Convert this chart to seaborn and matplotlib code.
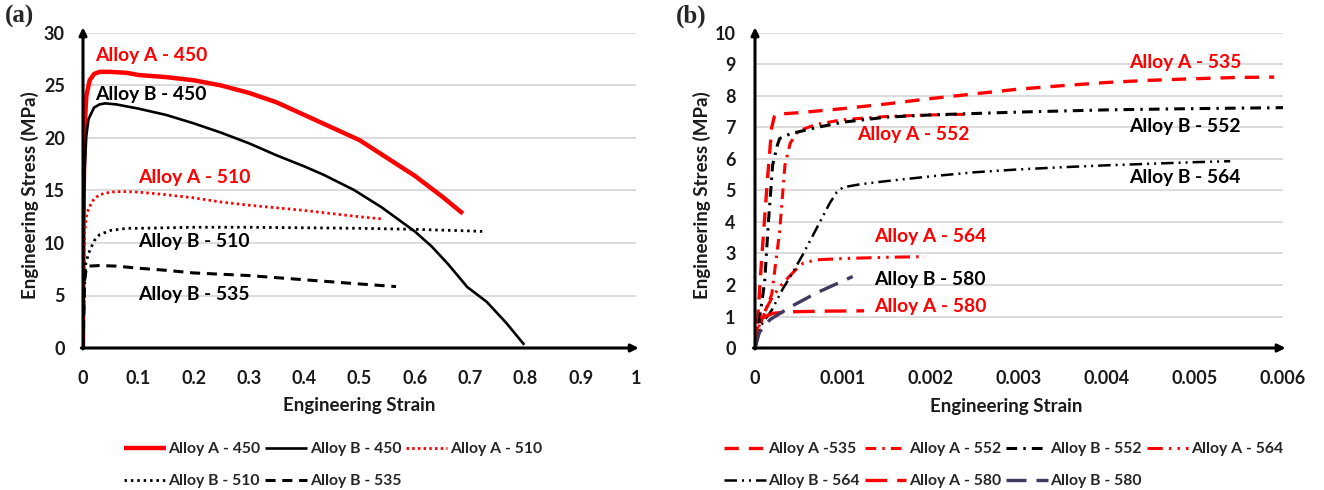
import matplotlib
matplotlib.use("Agg")
import matplotlib.pyplot as plt
from matplotlib.ticker import FuncFormatter, MultipleLocator
import seaborn as sns
import pandas as pd

# ---------------- panel (a): full tensile curves ----------------
strain_a450 = [0, 0.001, 0.003, 0.006, 0.012, 0.02, 0.03, 0.05, 0.08, 0.1, 0.15, 0.2, 0.25,
               0.3, 0.35, 0.4, 0.45, 0.5, 0.55, 0.6, 0.65, 0.687]
stress_a450 = [0, 14, 21, 24, 25.5, 26.1, 26.3, 26.3, 26.2, 26.0, 25.8, 25.5, 25.0,
               24.3, 23.4, 22.2, 21.0, 19.8, 18.1, 16.4, 14.4, 12.8]

strain_b450 = [0, 0.001, 0.003, 0.006, 0.01, 0.02, 0.03, 0.04, 0.06, 0.1, 0.15, 0.2, 0.25,
               0.3, 0.35, 0.4, 0.435, 0.49, 0.54, 0.6, 0.63, 0.66, 0.695, 0.73, 0.766, 0.798]
stress_b450 = [0, 10, 17, 20.2, 21.8, 22.9, 23.2, 23.3, 23.2, 22.8, 22.2, 21.4, 20.5,
               19.5, 18.35, 17.3, 16.5, 15.05, 13.4, 11.1, 9.7, 8.0, 5.8, 4.4, 2.35, 0.3]

strain_a510 = [0, 0.001, 0.003, 0.006, 0.01, 0.02, 0.03, 0.05, 0.07, 0.1, 0.15, 0.2, 0.25,
               0.3, 0.35, 0.4, 0.45, 0.5, 0.54]
stress_a510 = [0, 6, 11, 12.5, 13.3, 14.2, 14.6, 14.85, 14.9, 14.85, 14.6, 14.3, 13.9,
               13.6, 13.35, 13.1, 12.8, 12.5, 12.3]

strain_b510 = [0, 0.002, 0.005, 0.01, 0.02, 0.03, 0.05, 0.08, 0.1, 0.2, 0.3, 0.4, 0.5,
               0.6, 0.7, 0.722]
stress_b510 = [0, 5, 8, 9, 10.2, 10.8, 11.2, 11.4, 11.4, 11.5, 11.5, 11.45, 11.4,
               11.3, 11.15, 11.1]

strain_b535 = [0, 0.003, 0.006, 0.01, 0.03, 0.06, 0.1, 0.15, 0.2, 0.3, 0.4, 0.5, 0.566]
stress_b535 = [0, 6.5, 7.6, 7.8, 7.85, 7.8, 7.6, 7.4, 7.15, 6.9, 6.5, 6.1, 5.85]

# ---------------- panel (b): elastic / early plastic region ----------------
strain_a535 = [0, 0.00003, 0.00008, 0.00014, 0.00019, 0.00022, 0.00024, 0.0005, 0.001,
               0.0015, 0.002, 0.0025, 0.003, 0.0035, 0.004, 0.0045, 0.005, 0.0055, 0.0059]
stress_a535 = [0, 0.9, 3.0, 5.3, 7.0, 7.35, 7.42, 7.47, 7.6, 7.75, 7.92, 8.07, 8.22,
               8.33, 8.43, 8.5, 8.55, 8.59, 8.6]

strain_a552 = [0, 0.00008, 0.00019, 0.00028, 0.00034, 0.0004, 0.00048, 0.00055, 0.0007,
               0.001, 0.0015, 0.002, 0.0024]
stress_a552 = [0, 0.9, 1.7, 3.7, 5.8, 6.5, 6.85, 6.95, 7.1, 7.25, 7.35, 7.4, 7.42]

strain_b552 = [0, 0.00005, 0.00011, 0.00015, 0.0002, 0.00025, 0.00028, 0.0004, 0.0007,
               0.001, 0.0015, 0.002, 0.003, 0.004, 0.005, 0.006]
stress_b552 = [0, 0.9, 2.1, 3.9, 5.8, 6.4, 6.65, 6.8, 7.0, 7.17, 7.33, 7.4, 7.49,
               7.56, 7.6, 7.63]

strain_a564 = [0, 0.00006, 0.0002, 0.0003, 0.00045, 0.00055, 0.0007, 0.001, 0.0015, 0.00193]
stress_a564 = [0, 0.9, 1.63, 2.0, 2.45, 2.7, 2.8, 2.84, 2.88, 2.9]

strain_b564 = [0, 0.00006, 0.00019, 0.00032, 0.00042, 0.00055, 0.0007, 0.00085, 0.00093,
               0.001, 0.0012, 0.0015, 0.002, 0.0025, 0.003, 0.0035, 0.004, 0.0045,
               0.005, 0.0054]
stress_b564 = [0, 0.68, 1.2, 1.9, 2.35, 3.0, 3.8, 4.6, 4.95, 5.1, 5.2, 5.3, 5.45, 5.58,
               5.67, 5.74, 5.8, 5.85, 5.9, 5.93]

strain_a580 = [0, 0.00003, 0.00008, 0.0002, 0.0004, 0.0008, 0.00124]
stress_a580 = [0, 0.7, 0.95, 1.1, 1.15, 1.17, 1.18]

strain_b580 = [0, 0.00005, 0.00017, 0.0004, 0.0007, 0.00111]
stress_b580 = [0, 0.5, 0.9, 1.3, 1.75, 2.27]

labels_a = ["Alloy A - 450", "Alloy B - 450", "Alloy A - 510", "Alloy B - 510", "Alloy B - 535"]
labels_b = ["Alloy A -535", "Alloy A - 552", "Alloy B - 552", "Alloy A - 564",
            "Alloy B - 564", "Alloy A - 580", "Alloy B - 580"]

RED = "#ff0000"
BLACK = "#000000"
PURPLE = "#403a60"

series_a = [
    (strain_a450, stress_a450, RED, 3.2, "-"),
    (strain_b450, stress_b450, BLACK, 1.9, "-"),
    (strain_a510, stress_a510, RED, 2.0, (0, (0.9, 1.15))),
    (strain_b510, stress_b510, BLACK, 2.0, (0, (0.9, 1.4))),
    (strain_b535, stress_b535, BLACK, 2.2, (0, (3.3, 2.2))),
]
series_b = [
    (strain_a535, stress_a535, RED, 2.4, (0, (4.3, 3.0))),
    (strain_a552, stress_a552, RED, 2.2, (0, (3.5, 2.0, 0.8, 2.0))),
    (strain_b552, stress_b552, BLACK, 2.2, (0, (3.5, 2.0, 0.8, 2.0))),
    (strain_a564, stress_a564, RED, 2.2, (0, (5.0, 2.0, 0.8, 2.0, 0.8, 2.0))),
    (strain_b564, stress_b564, BLACK, 1.8, (0, (5.0, 2.0, 0.8, 2.0, 0.8, 2.0))),
    (strain_a580, stress_a580, RED, 2.4, (0, (6.5, 3.0))),
    (strain_b580, stress_b580, PURPLE, 2.4, (0, (6.0, 3.0))),
]

# curve annotations: (text, x, y, colour)
notes_a = [("Alloy A - 450", 0.021, 27.9, RED), ("Alloy B - 450", 0.021, 24.1, BLACK),
           ("Alloy A - 510", 0.10, 16.2, RED), ("Alloy B - 510", 0.10, 10.1, BLACK),
           ("Alloy B - 535", 0.10, 5.1, BLACK)]
notes_b = [("Alloy A - 535", 0.00425, 9.05, RED), ("Alloy B - 552", 0.00425, 7.04, BLACK),
           ("Alloy B - 564", 0.00425, 5.4, BLACK), ("Alloy A - 552", 0.00116, 6.77, RED),
           ("Alloy A - 564", 0.00135, 3.55, RED), ("Alloy B - 580", 0.00135, 2.17, BLACK),
           ("Alloy A - 580", 0.00135, 1.32, RED)]

sns.set_style("white")
plt.rcParams["font.family"] = ["Lato", "DejaVu Sans"]
plt.rcParams["font.weight"] = "bold"

fig = plt.figure(figsize=(13.24, 4.9), dpi=100)
ax_a = fig.add_axes([83 / 1324, 1 - 348 / 490, 553 / 1324, 315 / 490])
ax_b = fig.add_axes([755 / 1324, 1 - 348 / 490, 528 / 1324, 315 / 490])


def draw_series(ax, series, labels):
    for (x, y, c, lw, ls), lab in zip(series, labels):
        df = pd.DataFrame({"strain": x, "stress": y})
        sns.lineplot(data=df, x="strain", y="stress", ax=ax, color=c, lw=lw,
                     linestyle=ls, label=lab, estimator=None, sort=False,
                     legend=False, solid_capstyle="butt", dash_capstyle="butt",
                     solid_joinstyle="round")


def style_axes(ax, xmax, ymax, ystep, xstep, xpad, ypad):
    ax.set_xlim(0, xmax)
    ax.set_ylim(0, ymax)
    ax.yaxis.set_major_locator(MultipleLocator(ystep))
    ax.xaxis.set_major_locator(MultipleLocator(xstep))
    fmt = FuncFormatter(lambda v, p: f"{v:.6g}" if abs(v) > 1e-12 else "0")
    ax.xaxis.set_major_formatter(fmt)
    ax.yaxis.set_major_formatter(FuncFormatter(lambda v, p: f"{v:.0f}"))
    for s in ax.spines.values():
        s.set_visible(False)
    ax.yaxis.grid(True, color="#d9d9d9", lw=1.3)
    ax.xaxis.grid(False)
    ax.set_axisbelow(True)
    ax.tick_params(axis="both", length=0, labelsize=13, colors="#1a1a1a")
    ax.tick_params(axis="x", pad=xpad)
    ax.tick_params(axis="y", pad=ypad)
    for t in ax.get_xticklabels() + ax.get_yticklabels():
        t.set_fontweight("bold")
    # axis lines with arrow heads
    ax.annotate("", xy=(0, 1.018), xytext=(0, -0.003), xycoords="axes fraction",
                arrowprops=dict(arrowstyle="-|>", lw=2.2, color="black",
                                mutation_scale=11, shrinkA=0, shrinkB=0))
    ax.annotate("", xy=(1.005, 0), xytext=(-0.003, 0), xycoords="axes fraction",
                arrowprops=dict(arrowstyle="-|>", lw=2.2, color="black",
                                mutation_scale=11, shrinkA=0, shrinkB=0))
    ax.set_xlabel("Engineering Strain", fontsize=13.5, fontweight="bold", color="#1a1a1a")
    ax.set_ylabel("Engineering Stress (MPa)", fontsize=13.5, fontweight="bold",
                  color="#1a1a1a")


draw_series(ax_a, series_a, labels_a)
draw_series(ax_b, series_b, labels_b)

style_axes(ax_a, 1.0, 30, 5, 0.1, 16, 13)
style_axes(ax_b, 0.006, 10, 1, 0.001, 16, 14)

ax_a.xaxis.set_label_coords(0.5, -0.155)
ax_a.yaxis.set_label_coords(-0.08, 0.485)
ax_b.xaxis.set_label_coords(0.475, -0.16)
ax_b.yaxis.set_label_coords(-0.083, 0.485)

for ax, notes in ((ax_a, notes_a), (ax_b, notes_b)):
    for txt, x, y, c in notes:
        ax.text(x, y, txt, color=c, fontsize=13.9, fontweight="bold", ha="left", va="center")

fig.text(5 / 1324, 1 - 16 / 490, "(a)", family="Liberation Serif", fontweight="bold",
         fontsize=18, va="center", ha="left")
fig.text(676 / 1324, 1 - 16 / 490, "(b)", family="Liberation Serif", fontweight="bold",
         fontsize=18, va="center", ha="left")


# legends below each panel, entries reordered so columns read row-wise
def add_legend(ax, order, ncol, anchor_x):
    lines = ax.get_lines()
    handles = [lines[i] for i in order]
    labs = [h.get_label() for h in handles]
    return ax.legend(handles, labs, ncol=ncol, loc="upper left",
                     bbox_to_anchor=(anchor_x, 1 - 442 / 490), bbox_transform=fig.transFigure,
                     frameon=False, handlelength=2.65, handletextpad=0.18,
                     columnspacing=0.3, labelspacing=1.15, borderpad=0, borderaxespad=0,
                     prop={"weight": "bold", "size": 11.3})


add_legend(ax_a, [0, 3, 1, 4, 2], 3, 124 / 1324)
add_legend(ax_b, [0, 4, 1, 5, 2, 6, 3], 4, 724 / 1324)

fig.savefig("out.png", dpi=100)
